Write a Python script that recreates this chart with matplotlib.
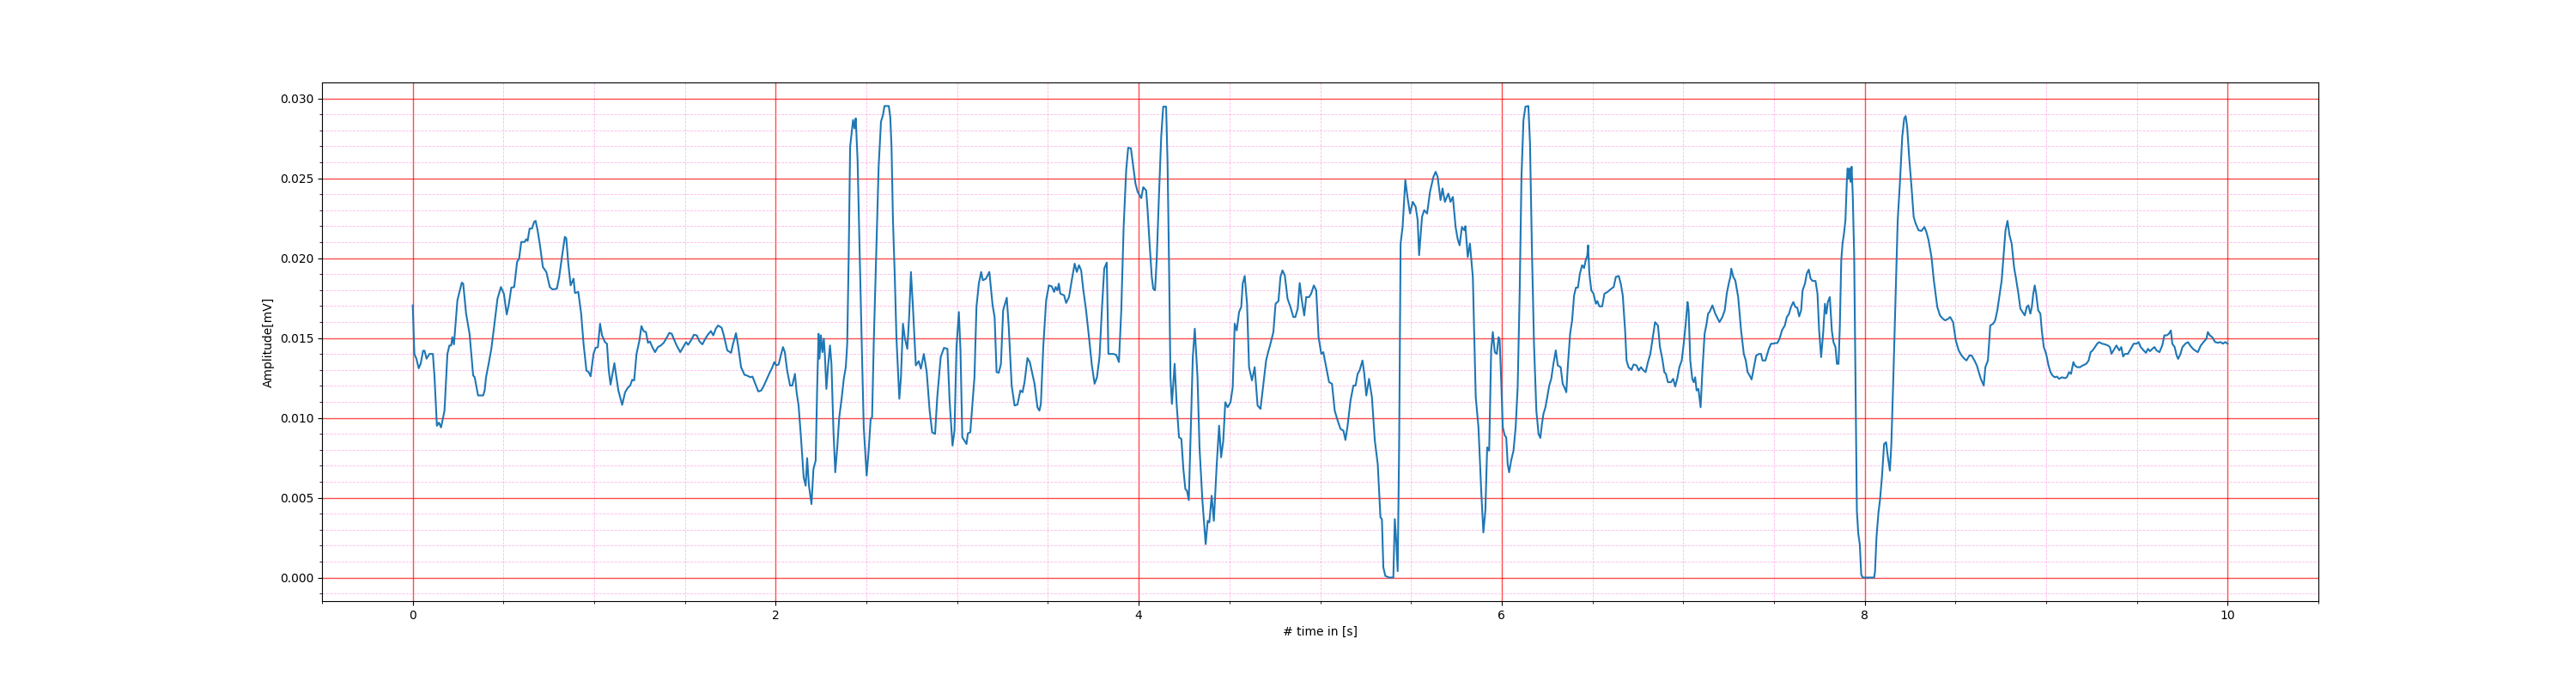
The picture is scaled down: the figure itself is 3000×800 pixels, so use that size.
"""
Plot of an amplitude trace over ten seconds on an ECG style grid
(red major lines, pink dashed minor lines).
"""

# IMPORTS
import matplotlib

matplotlib.use("Agg")
import matplotlib.pyplot as plt
from matplotlib.ticker import MultipleLocator

# DATA
# time in seconds
time_s = [
    0.000, 0.009, 0.020, 0.033, 0.044, 0.057, 0.065, 0.076, 0.092, 0.111,
    0.120, 0.133, 0.144, 0.156, 0.175, 0.191, 0.202, 0.212, 0.218, 0.227,
    0.246, 0.270, 0.278, 0.294, 0.313, 0.333, 0.341, 0.360, 0.388, 0.396,
    0.404, 0.420, 0.433, 0.448, 0.467, 0.486, 0.502, 0.518, 0.530, 0.543,
    0.559, 0.575, 0.586, 0.598, 0.617, 0.625, 0.633, 0.644, 0.657, 0.669,
    0.677, 0.688, 0.701, 0.717, 0.736, 0.755, 0.770, 0.794, 0.807, 0.822,
    0.838, 0.846, 0.857, 0.870, 0.886, 0.894, 0.912, 0.928, 0.941, 0.957,
    0.969, 0.980, 0.996, 1.007, 1.020, 1.032, 1.043, 1.059, 1.070, 1.080,
    1.090, 1.111, 1.122, 1.133, 1.154, 1.170, 1.185, 1.198, 1.209, 1.220,
    1.233, 1.249, 1.260, 1.272, 1.285, 1.296, 1.307, 1.320, 1.335, 1.351,
    1.367, 1.383, 1.399, 1.414, 1.427, 1.438, 1.454, 1.474, 1.490, 1.506,
    1.517, 1.533, 1.549, 1.565, 1.580, 1.596, 1.612, 1.627, 1.643, 1.656,
    1.670, 1.682, 1.702, 1.714, 1.733, 1.754, 1.765, 1.781, 1.794, 1.809,
    1.828, 1.841, 1.860, 1.872, 1.891, 1.904, 1.920, 1.935, 1.968, 1.980,
    1.992, 2.003, 2.016, 2.028, 2.040, 2.050, 2.063, 2.079, 2.091, 2.106,
    2.115, 2.126, 2.139, 2.154, 2.165, 2.173, 2.183, 2.197, 2.208, 2.220,
    2.228, 2.236, 2.241, 2.249, 2.257, 2.265, 2.271, 2.279, 2.288, 2.299,
    2.307, 2.318, 2.328, 2.339, 2.350, 2.363, 2.375, 2.386, 2.394, 2.402,
    2.410, 2.426, 2.434, 2.441, 2.451, 2.460, 2.473, 2.485, 2.501, 2.512,
    2.523, 2.531, 2.540, 2.555, 2.567, 2.580, 2.591, 2.599, 2.623, 2.631,
    2.638, 2.646, 2.656, 2.665, 2.681, 2.690, 2.701, 2.712, 2.725, 2.735,
    2.745, 2.756, 2.772, 2.788, 2.800, 2.816, 2.832, 2.848, 2.862, 2.878,
    2.890, 2.909, 2.927, 2.946, 2.958, 2.974, 2.985, 2.996, 3.009, 3.018,
    3.028, 3.040, 3.051, 3.059, 3.072, 3.088, 3.095, 3.106, 3.119, 3.132,
    3.141, 3.158, 3.177, 3.195, 3.206, 3.217, 3.229, 3.241, 3.253, 3.273,
    3.284, 3.300, 3.316, 3.332, 3.348, 3.360, 3.371, 3.387, 3.400, 3.410,
    3.426, 3.442, 3.453, 3.461, 3.474, 3.490, 3.505, 3.521, 3.534, 3.542,
    3.552, 3.560, 3.568, 3.589, 3.600, 3.616, 3.631, 3.647, 3.659, 3.671,
    3.683, 3.694, 3.710, 3.726, 3.742, 3.757, 3.770, 3.784, 3.797, 3.810,
    3.824, 3.833, 3.847, 3.860, 3.876, 3.891, 3.904, 3.917, 3.931, 3.942,
    3.957, 3.970, 3.982, 3.994, 4.014, 4.025, 4.041, 4.049, 4.061, 4.072,
    4.080, 4.090, 4.099, 4.112, 4.124, 4.135, 4.151, 4.159, 4.167, 4.175,
    4.183, 4.198, 4.209, 4.222, 4.235, 4.246, 4.257, 4.266, 4.276, 4.288,
    4.298, 4.309, 4.324, 4.335, 4.351, 4.369, 4.380, 4.389, 4.402, 4.414,
    4.430, 4.443, 4.454, 4.466, 4.477, 4.490, 4.506, 4.518, 4.529, 4.540,
    4.553, 4.565, 4.573, 4.584, 4.597, 4.608, 4.624, 4.639, 4.655, 4.671,
    4.687, 4.702, 4.713, 4.726, 4.742, 4.754, 4.770, 4.781, 4.792, 4.805,
    4.820, 4.836, 4.852, 4.863, 4.876, 4.887, 4.899, 4.912, 4.923, 4.939,
    4.950, 4.965, 4.978, 4.991, 5.006, 5.017, 5.033, 5.049, 5.065, 5.080,
    5.096, 5.112, 5.128, 5.139, 5.151, 5.167, 5.183, 5.195, 5.206, 5.217,
    5.233, 5.243, 5.254, 5.269, 5.285, 5.301, 5.317, 5.332, 5.340, 5.348,
    5.359, 5.380, 5.403, 5.411, 5.419, 5.427, 5.435, 5.443, 5.454, 5.469,
    5.482, 5.495, 5.510, 5.526, 5.537, 5.545, 5.561, 5.573, 5.589, 5.605,
    5.624, 5.636, 5.647, 5.663, 5.674, 5.687, 5.706, 5.718, 5.731, 5.746,
    5.757, 5.768, 5.781, 5.794, 5.800, 5.813, 5.825, 5.841, 5.857, 5.872,
    5.888, 5.899, 5.910, 5.920, 5.931, 5.942, 5.951, 5.962, 5.973, 5.983,
    5.989, 5.998, 6.006, 6.017, 6.025, 6.033, 6.041, 6.052, 6.065, 6.077,
    6.088, 6.099, 6.109, 6.120, 6.131, 6.147, 6.156, 6.167, 6.178, 6.191,
    6.203, 6.213, 6.222, 6.230, 6.241, 6.251, 6.262, 6.273, 6.285, 6.298,
    6.309, 6.325, 6.336, 6.349, 6.356, 6.364, 6.377, 6.388, 6.399, 6.409,
    6.420, 6.431, 6.443, 6.454, 6.462, 6.472, 6.476, 6.483, 6.494, 6.506,
    6.519, 6.527, 6.538, 6.554, 6.566, 6.582, 6.593, 6.604, 6.617, 6.629,
    6.645, 6.656, 6.667, 6.680, 6.688, 6.699, 6.715, 6.727, 6.743, 6.755,
    6.767, 6.782, 6.793, 6.806, 6.819, 6.830, 6.845, 6.861, 6.872, 6.885,
    6.896, 6.905, 6.916, 6.932, 6.945, 6.956, 6.967, 6.979, 6.992, 7.003,
    7.014, 7.024, 7.030, 7.039, 7.050, 7.058, 7.066, 7.074, 7.084, 7.096,
    7.106, 7.118, 7.129, 7.137, 7.145, 7.161, 7.177, 7.188, 7.200, 7.216,
    7.229, 7.240, 7.251, 7.260, 7.265, 7.276, 7.287, 7.303, 7.319, 7.334,
    7.345, 7.355, 7.366, 7.377, 7.390, 7.402, 7.418, 7.429, 7.437, 7.453,
    7.461, 7.472, 7.484, 7.497, 7.508, 7.519, 7.531, 7.544, 7.560, 7.571,
    7.582, 7.594, 7.607, 7.618, 7.629, 7.639, 7.650, 7.658, 7.671, 7.681,
    7.692, 7.702, 7.713, 7.729, 7.740, 7.749, 7.760, 7.771, 7.781, 7.789,
    7.797, 7.808, 7.819, 7.828, 7.839, 7.847, 7.856, 7.863, 7.871, 7.878,
    7.886, 7.894, 7.902, 7.906, 7.912, 7.917, 7.922, 7.928, 7.934, 7.942,
    7.949, 7.957, 7.965, 7.973, 7.981, 7.989, 8.021, 8.052, 8.057, 8.065,
    8.076, 8.084, 8.095, 8.107, 8.118, 8.128, 8.139, 8.147, 8.158, 8.171,
    8.182, 8.194, 8.207, 8.218, 8.226, 8.234, 8.245, 8.258, 8.270, 8.281,
    8.297, 8.313, 8.329, 8.340, 8.352, 8.368, 8.381, 8.400, 8.415, 8.431,
    8.444, 8.460, 8.471, 8.487, 8.502, 8.518, 8.534, 8.550, 8.561, 8.577,
    8.589, 8.605, 8.618, 8.629, 8.640, 8.656, 8.665, 8.679, 8.692, 8.708,
    8.719, 8.731, 8.744, 8.755, 8.766, 8.776, 8.787, 8.798, 8.810, 8.823,
    8.834, 8.847, 8.858, 8.870, 8.882, 8.893, 8.902, 8.913, 8.921, 8.929,
    8.937, 8.945, 8.956, 8.968, 8.976, 8.987, 9.000, 9.013, 9.024, 9.035,
    9.047, 9.060, 9.071, 9.087, 9.103, 9.114, 9.126, 9.137, 9.150, 9.158,
    9.171, 9.186, 9.202, 9.221, 9.234, 9.245, 9.256, 9.269, 9.281, 9.292,
    9.308, 9.324, 9.340, 9.351, 9.360, 9.371, 9.387, 9.403, 9.414, 9.424,
    9.434, 9.450, 9.466, 9.482, 9.498, 9.509, 9.521, 9.537, 9.550, 9.561,
    9.572, 9.585, 9.597, 9.608, 9.624, 9.640, 9.651, 9.664, 9.676, 9.687,
    9.695, 9.708, 9.719, 9.727, 9.740, 9.751, 9.767, 9.782, 9.793, 9.809,
    9.820, 9.836, 9.852, 9.867, 9.883, 9.891, 9.902, 9.915, 9.931, 9.946,
    9.962, 9.974, 9.986, 10.000,
]

# amplitude in mV at each time above
amplitude_mv = [
    0.01704, 0.01400, 0.01370, 0.01310, 0.01340, 0.01420, 0.01420, 0.01370, 0.01400, 0.01400,
    0.01255, 0.00950, 0.00970, 0.00940, 0.01045, 0.01400, 0.01453, 0.01453, 0.01505, 0.01460,
    0.01735, 0.01846, 0.01840, 0.01652, 0.01526, 0.01265, 0.01255, 0.01140, 0.01140, 0.01170,
    0.01255, 0.01349, 0.01432, 0.01568, 0.01746, 0.01819, 0.01777, 0.01647, 0.01714, 0.01815,
    0.01819, 0.01976, 0.01997, 0.02101, 0.02101, 0.02118, 0.02108, 0.02185, 0.02185, 0.02227,
    0.02233, 0.02174, 0.02080, 0.01944, 0.01913, 0.01819, 0.01804, 0.01808, 0.01882, 0.02007,
    0.02133, 0.02123, 0.01965, 0.01829, 0.01871, 0.01781, 0.01788, 0.01652, 0.01464, 0.01296,
    0.01286, 0.01260, 0.01400, 0.01438, 0.01442, 0.01589, 0.01516, 0.01474, 0.01464, 0.01296,
    0.01208, 0.01342, 0.01254, 0.01171, 0.01081, 0.01160, 0.01188, 0.01202, 0.01238, 0.01234,
    0.01400, 0.01484, 0.01574, 0.01543, 0.01537, 0.01470, 0.01478, 0.01443, 0.01411, 0.01443,
    0.01453, 0.01470, 0.01501, 0.01532, 0.01526, 0.01495, 0.01453, 0.01411, 0.01443, 0.01474,
    0.01457, 0.01484, 0.01520, 0.01516, 0.01478, 0.01460, 0.01495, 0.01522, 0.01543, 0.01516,
    0.01558, 0.01578, 0.01564, 0.01516, 0.01422, 0.01407, 0.01464, 0.01530, 0.01443, 0.01317,
    0.01269, 0.01265, 0.01254, 0.01258, 0.01202, 0.01165, 0.01171, 0.01202, 0.01286, 0.01313,
    0.01349, 0.01328, 0.01334, 0.01390, 0.01443, 0.01411, 0.01296, 0.01202, 0.01202, 0.01275,
    0.01160, 0.01077, 0.00878, 0.00627, 0.00575, 0.00748, 0.00575, 0.00460, 0.00680, 0.00732,
    0.01171, 0.01526, 0.01370, 0.01516, 0.01411, 0.01495, 0.01390, 0.01181, 0.01317, 0.01453,
    0.01338, 0.00920, 0.00659, 0.00815, 0.01004, 0.01119, 0.01244, 0.01317, 0.01464, 0.02007,
    0.02697, 0.02864, 0.02812, 0.02875, 0.02613, 0.02153, 0.01505, 0.00941, 0.00638, 0.00794,
    0.00993, 0.01004, 0.01464, 0.02091, 0.02572, 0.02854, 0.02896, 0.02952, 0.02952, 0.02885,
    0.02697, 0.02237, 0.01882, 0.01505, 0.01119, 0.01254, 0.01589, 0.01495, 0.01432, 0.01631,
    0.01913, 0.01693, 0.01328, 0.01355, 0.01307, 0.01400, 0.01286, 0.01045, 0.00909, 0.00899,
    0.01129, 0.01380, 0.01438, 0.01432, 0.01108, 0.00826, 0.00920, 0.01443, 0.01662, 0.01422,
    0.00878, 0.00857, 0.00836, 0.00903, 0.00909, 0.01150, 0.01254, 0.01693, 0.01840, 0.01913,
    0.01861, 0.01871, 0.01913, 0.01704, 0.01631, 0.01286, 0.01282, 0.01338, 0.01673, 0.01752,
    0.01568, 0.01202, 0.01077, 0.01083, 0.01171, 0.01160, 0.01223, 0.01374, 0.01349, 0.01296,
    0.01213, 0.01066, 0.01045, 0.01087, 0.01443, 0.01735, 0.01829, 0.01823, 0.01788, 0.01819,
    0.01798, 0.01840, 0.01777, 0.01767, 0.01719, 0.01756, 0.01861, 0.01965, 0.01913, 0.01955,
    0.01923, 0.01808, 0.01673, 0.01505, 0.01328, 0.01213, 0.01254, 0.01380, 0.01673, 0.01934,
    0.01972, 0.01400, 0.01400, 0.01400, 0.01394, 0.01349, 0.01673, 0.02195, 0.02551, 0.02691,
    0.02687, 0.02572, 0.02467, 0.02415, 0.02375, 0.02444, 0.02423, 0.02300, 0.02070, 0.01882,
    0.01808, 0.01798, 0.01986, 0.02404, 0.02760, 0.02948, 0.02948, 0.02593, 0.01965, 0.01254,
    0.01087, 0.01338, 0.01087, 0.00878, 0.00868, 0.00680, 0.00554, 0.00543, 0.00485, 0.00983,
    0.01380, 0.01558, 0.01254, 0.00815, 0.00481, 0.00209, 0.00355, 0.00345, 0.00512, 0.00355,
    0.00711, 0.00951, 0.00753, 0.00857, 0.01098, 0.01066, 0.01098, 0.01192, 0.01589, 0.01547,
    0.01662, 0.01694, 0.01840, 0.01888, 0.01714, 0.01317, 0.01234, 0.01317, 0.01077, 0.01056,
    0.01213, 0.01359, 0.01411, 0.01464, 0.01537, 0.01714, 0.01731, 0.01882, 0.01923, 0.01892,
    0.01746, 0.01694, 0.01631, 0.01631, 0.01683, 0.01844, 0.01735, 0.01641, 0.01756, 0.01756,
    0.01777, 0.01829, 0.01798, 0.01505, 0.01400, 0.01411, 0.01317, 0.01223, 0.01213, 0.01045,
    0.00983, 0.00930, 0.00920, 0.00861, 0.00951, 0.01108, 0.01202, 0.01202, 0.01275, 0.01296,
    0.01359, 0.01275, 0.01140, 0.01244, 0.01129, 0.00857, 0.00711, 0.00376, 0.00366, 0.00063,
    0.00010, 0.00000, 0.00000, 0.00366, 0.00230, 0.00040, 0.00836, 0.02091, 0.02195, 0.02488,
    0.02373, 0.02279, 0.02352, 0.02321, 0.02237, 0.02018, 0.02258, 0.02300, 0.02279, 0.02415,
    0.02509, 0.02540, 0.02509, 0.02363, 0.02436, 0.02352, 0.02404, 0.02352, 0.02383, 0.02195,
    0.02122, 0.02080, 0.02195, 0.02174, 0.02200, 0.02007, 0.02091, 0.01882, 0.01129, 0.00941,
    0.00523, 0.00282, 0.00418, 0.00815, 0.00794, 0.01422, 0.01537, 0.01411, 0.01400, 0.01505,
    0.01484, 0.01213, 0.00941, 0.00889, 0.00878, 0.00711, 0.00659, 0.00732, 0.00794, 0.00941,
    0.01192, 0.01777, 0.02509, 0.02864, 0.02948, 0.02952, 0.02718, 0.02028, 0.01464, 0.01045,
    0.00899, 0.00874, 0.00962, 0.01024, 0.01066, 0.01129, 0.01202, 0.01244, 0.01338, 0.01422,
    0.01328, 0.01317, 0.01213, 0.01181, 0.01160, 0.01317, 0.01526, 0.01610, 0.01767, 0.01815,
    0.01815, 0.01903, 0.01955, 0.01938, 0.01982, 0.02018, 0.02080, 0.01903, 0.01798, 0.01777,
    0.01714, 0.01731, 0.01698, 0.01698, 0.01777, 0.01787, 0.01798, 0.01808, 0.01819, 0.01882,
    0.01888, 0.01840, 0.01767, 0.01547, 0.01359, 0.01317, 0.01300, 0.01334, 0.01328, 0.01296,
    0.01317, 0.01296, 0.01286, 0.01349, 0.01400, 0.01484, 0.01599, 0.01578, 0.01443, 0.01369,
    0.01286, 0.01275, 0.01223, 0.01223, 0.01244, 0.01196, 0.01244, 0.01317, 0.01359, 0.01464,
    0.01589, 0.01725, 0.01673, 0.01359, 0.01244, 0.01223, 0.01254, 0.01171, 0.01181, 0.01066,
    0.01296, 0.01526, 0.01589, 0.01652, 0.01662, 0.01704, 0.01652, 0.01627, 0.01599, 0.01631,
    0.01673, 0.01777, 0.01840, 0.01882, 0.01934, 0.01882, 0.01861, 0.01756, 0.01547, 0.01400,
    0.01359, 0.01286, 0.01265, 0.01240, 0.01317, 0.01390, 0.01400, 0.01400, 0.01359, 0.01359,
    0.01390, 0.01432, 0.01464, 0.01464, 0.01468, 0.01468, 0.01495, 0.01547, 0.01578, 0.01631,
    0.01648, 0.01694, 0.01725, 0.01694, 0.01689, 0.01635, 0.01673, 0.01798, 0.01840, 0.01903,
    0.01928, 0.01871, 0.01857, 0.01857, 0.01777, 0.01547, 0.01380, 0.01526, 0.01714, 0.01652,
    0.01725, 0.01756, 0.01547, 0.01474, 0.01443, 0.01338, 0.01338, 0.01568, 0.01986, 0.02091,
    0.02153, 0.02237, 0.02488, 0.02561, 0.02498, 0.02561, 0.02477, 0.02572, 0.02404, 0.02028,
    0.01254, 0.00418, 0.00272, 0.00209, 0.00020, 0.00000, 0.00000, 0.00000, 0.00036, 0.00251,
    0.00408, 0.00481, 0.00627, 0.00836, 0.00847, 0.00753, 0.00669, 0.00836, 0.01254, 0.01777,
    0.02237, 0.02467, 0.02760, 0.02875, 0.02889, 0.02822, 0.02634, 0.02446, 0.02258, 0.02216,
    0.02174, 0.02170, 0.02195, 0.02164, 0.02112, 0.02007, 0.01861, 0.01694, 0.01641, 0.01620,
    0.01610, 0.01620, 0.01631, 0.01599, 0.01484, 0.01422, 0.01390, 0.01369, 0.01359, 0.01390,
    0.01390, 0.01359, 0.01328, 0.01286, 0.01244, 0.01202, 0.01317, 0.01359, 0.01578, 0.01589,
    0.01610, 0.01673, 0.01777, 0.01861, 0.02028, 0.02174, 0.02233, 0.02143, 0.02091, 0.01944,
    0.01871, 0.01777, 0.01683, 0.01662, 0.01641, 0.01694, 0.01704, 0.01652, 0.01694, 0.01777,
    0.01829, 0.01777, 0.01673, 0.01652, 0.01547, 0.01443, 0.01400, 0.01328, 0.01286, 0.01265,
    0.01254, 0.01258, 0.01244, 0.01254, 0.01248, 0.01254, 0.01286, 0.01275, 0.01349, 0.01328,
    0.01317, 0.01317, 0.01328, 0.01338, 0.01359, 0.01411, 0.01422, 0.01443, 0.01464, 0.01474,
    0.01464, 0.01460, 0.01453, 0.01443, 0.01401, 0.01422, 0.01453, 0.01422, 0.01443, 0.01384,
    0.01400, 0.01400, 0.01432, 0.01464, 0.01464, 0.01474, 0.01443, 0.01422, 0.01407, 0.01432,
    0.01417, 0.01432, 0.01443, 0.01422, 0.01411, 0.01453, 0.01516, 0.01516, 0.01526, 0.01547,
    0.01464, 0.01443, 0.01390, 0.01369, 0.01400, 0.01443, 0.01464, 0.01474, 0.01453, 0.01432,
    0.01422, 0.01411, 0.01453, 0.01474, 0.01495, 0.01537, 0.01516, 0.01505, 0.01474, 0.01470,
    0.01474, 0.01464, 0.01474, 0.01464,
]

X_LABEL = "# time in [s]"
Y_LABEL = "Amplitude[mV]"


def plot_trace(filename: str) -> None:
    fig, ax = plt.subplots(figsize=(30, 8), dpi=100)
    fig.subplots_adjust(left=0.125, right=0.9, top=0.88, bottom=0.125)

    ax.plot(time_s, amplitude_mv, color="tab:blue", linewidth=1.5)

    # ECG paper style grid
    ax.xaxis.set_major_locator(MultipleLocator(2))
    ax.xaxis.set_minor_locator(MultipleLocator(0.5))
    ax.yaxis.set_major_locator(MultipleLocator(0.005))
    ax.yaxis.set_minor_locator(MultipleLocator(0.001))
    ax.grid(which="major", linestyle="-", linewidth=1.0, color="red", alpha=0.7)
    ax.grid(which="minor", linestyle="--", linewidth=0.6, color="#ff88dd", alpha=0.6)

    ax.set_xlabel(X_LABEL)
    ax.set_ylabel(Y_LABEL)
    fig.savefig(filename)


if __name__ == "__main__":
    plot_trace("out.png")
